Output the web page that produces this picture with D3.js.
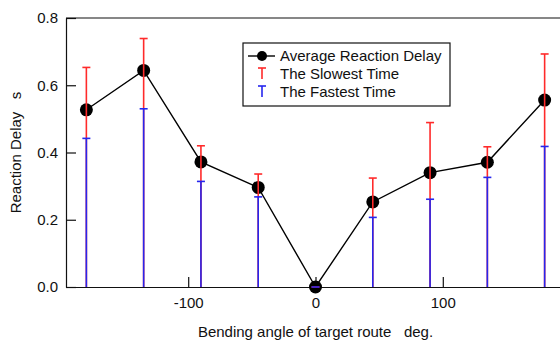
<!DOCTYPE html>
<html>
<head>
<meta charset="utf-8">
<script src="https://cdn.jsdelivr.net/npm/d3@7"></script>
<style>
    body { margin: 0; background: white; }
    svg { display: block; font-family: "Liberation Sans", Arial, sans-serif; }
</style>
</head>
<body>
<svg></svg>
<script>
// bending angles (deg) and reaction times (s)
var angles = [-180, -135, -90, -45, 0, 45, 90, 135, 180];
var average = [0.527, 0.644, 0.372, 0.296, 0.0, 0.253, 0.340, 0.371, 0.556];
var slowest = [0.653, 0.739, 0.420, 0.336, 0.0, 0.324, 0.489, 0.417, 0.693];
var fastest = [0.442, 0.530, 0.314, 0.268, 0.0, 0.207, 0.261, 0.326, 0.418];
var xTicks = [-100, 0, 100];
var yTicks = [0, 0.2, 0.4, 0.6, 0.8];
var legendNames = ["Average Reaction Delay", "The Slowest Time", "The Fastest Time"];

var screen = {width: 560, height: 341};
var margins = {top: 18, right: -5, bottom: 54, left: 66};
var fontSize = 15;

var svg = d3.select("svg")
    .attr("width", screen.width)
    .attr("height", screen.height);

var width = screen.width - margins.left - margins.right;
var height = screen.height - margins.top - margins.bottom;

var xScale = d3.scaleLinear()
    .domain([-196, 196])
    .range([0, width]);

var yScale = d3.scaleLinear()
    .domain([0, 0.8])
    .range([height, 0]);

var graph = svg.append("g")
    .attr("transform", "translate(" + margins.left + "," + margins.top + ")");

// axes, ticks pointing inward
var xAxis = d3.axisBottom(xScale)
    .tickValues(xTicks)
    .tickFormat(function(d) { return String(d); })
    .tickSizeInner(-10)
    .tickSizeOuter(0)
    .tickPadding(10);

var yAxis = d3.axisLeft(yScale)
    .tickValues(yTicks)
    .tickFormat(d3.format(".1f"))
    .tickSizeInner(-10)
    .tickSizeOuter(0)
    .tickPadding(8);

graph.append("g")
    .attr("class", "axis")
    .attr("transform", "translate(0," + height + ")")
    .call(xAxis);

graph.append("g")
    .attr("class", "axis")
    .call(yAxis);

graph.selectAll(".axis text")
    .attr("font-size", fontSize)
    .attr("font-family", "Liberation Sans, Arial, sans-serif")
    .attr("fill", "#111");

graph.selectAll(".axis path, .axis line")
    .attr("stroke", "#111")
    .attr("stroke-width", 1.2);

// top frame line
graph.append("line")
    .attr("x1", 0)
    .attr("x2", width)
    .attr("y1", yScale(0.8))
    .attr("y2", yScale(0.8))
    .attr("stroke", "#111")
    .attr("stroke-width", 1.2);

// average line
var lineGenerator = d3.line()
    .x(function(d, i) { return xScale(angles[i]); })
    .y(function(d) { return yScale(d); });

graph.append("path")
    .datum(average)
    .attr("d", lineGenerator)
    .attr("fill", "none")
    .attr("stroke", "black")
    .attr("stroke-width", 1.4);

graph.selectAll(".dot")
    .data(average)
    .enter()
    .append("circle")
    .attr("class", "dot")
    .attr("cx", function(d, i) { return xScale(angles[i]); })
    .attr("cy", function(d) { return yScale(d); })
    .attr("r", 6.5)
    .attr("fill", "black");

// drop bars with caps: slowest (red) then fastest (blue) on top
var drawBars = function(values, color)
{
    var bars = graph.append("g")
        .attr("stroke", color)
        .attr("stroke-width", 1.6);

    bars.selectAll(".bar")
        .data(values)
        .enter()
        .append("line")
        .attr("x1", function(d, i) { return xScale(angles[i]); })
        .attr("x2", function(d, i) { return xScale(angles[i]); })
        .attr("y1", yScale(0))
        .attr("y2", function(d) { return yScale(d); });

    bars.selectAll(".cap")
        .data(values)
        .enter()
        .append("line")
        .attr("x1", function(d, i) { return xScale(angles[i]) - 4; })
        .attr("x2", function(d, i) { return xScale(angles[i]) + 4; })
        .attr("y1", function(d) { return yScale(d); })
        .attr("y2", function(d) { return yScale(d); });
}

drawBars(slowest, "#ff2a2a");
drawBars(fastest, "#2626ee");

// legend
var legend = svg.append("g")
    .attr("transform", "translate(243,43)");

legend.append("rect")
    .attr("width", 207)
    .attr("height", 63)
    .attr("fill", "white")
    .attr("stroke", "#111")
    .attr("stroke-width", 1.2);

legend.append("line")
    .attr("x1", 5).attr("x2", 32)
    .attr("y1", 13).attr("y2", 13)
    .attr("stroke", "black")
    .attr("stroke-width", 1.4);

legend.append("circle")
    .attr("cx", 19).attr("cy", 13)
    .attr("r", 5)
    .attr("fill", "black");

var legendColors = ["#ff2a2a", "#2626ee"];
legendColors.forEach(function(c, i)
{
    var y = 31 + i * 18;
    legend.append("line")
        .attr("x1", 19).attr("x2", 19)
        .attr("y1", y - 6).attr("y2", y + 5)
        .attr("stroke", c).attr("stroke-width", 1.6);
    legend.append("line")
        .attr("x1", 15).attr("x2", 23)
        .attr("y1", y - 6).attr("y2", y - 6)
        .attr("stroke", c).attr("stroke-width", 1.6);
});

legend.selectAll(".label")
    .data(legendNames)
    .enter()
    .append("text")
    .attr("x", 37)
    .attr("y", function(d, i) { return 13 + i * 18; })
    .attr("dy", "0.35em")
    .attr("font-size", fontSize)
    .attr("fill", "#111")
    .text(function(d) { return d; });

// axis titles
svg.append("text")
    .attr("x", margins.left + xScale(0))
    .attr("y", 337)
    .attr("text-anchor", "middle")
    .attr("font-size", fontSize)
    .attr("fill", "#111")
    .attr("xml:space", "preserve")
    .text("Bending angle of target route   deg.");

svg.append("text")
    .attr("transform", "translate(21," + (margins.top + height / 2) + ") rotate(-90)")
    .attr("text-anchor", "middle")
    .attr("font-size", fontSize)
    .attr("fill", "#111")
    .attr("xml:space", "preserve")
    .text("Reaction Delay   s");
</script>
</body>
</html>
